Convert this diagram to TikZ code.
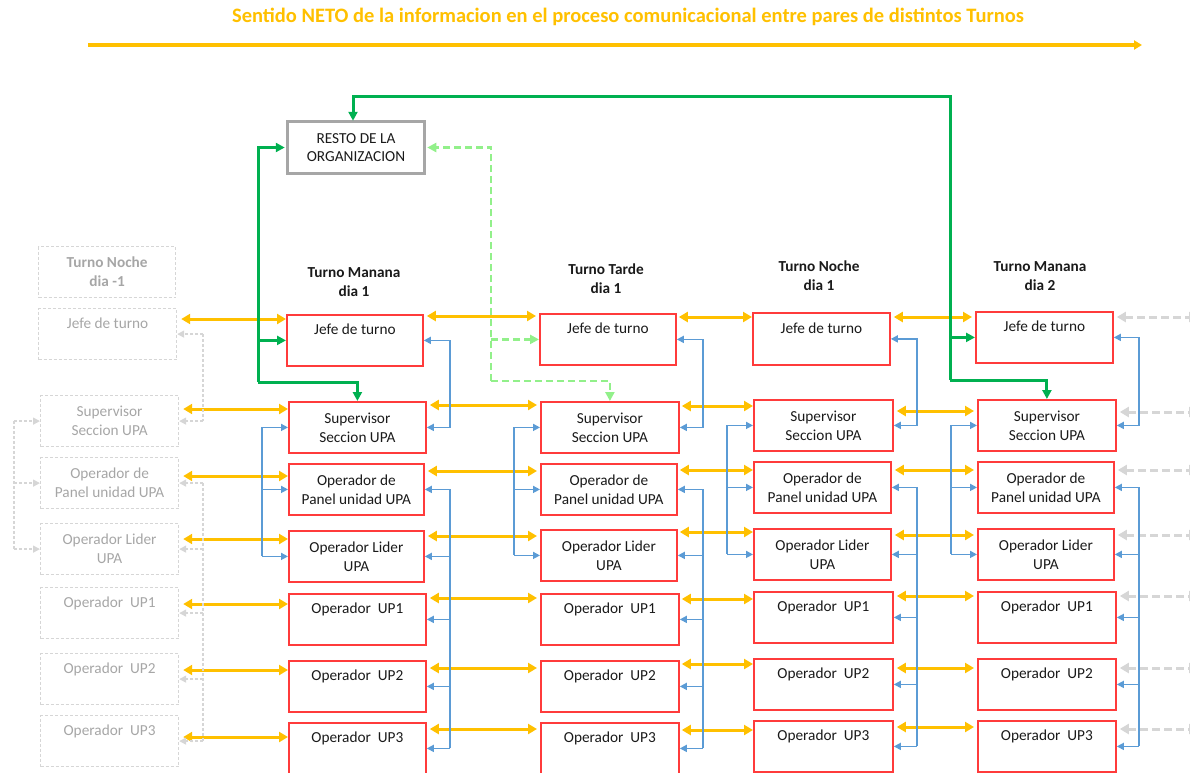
\documentclass[tikz,border=0pt]{standalone}
\usepackage{fontspec}
\setmainfont{Carlito}
\usetikzlibrary{arrows.meta,calc}
\definecolor{ygold}{HTML}{FFC000}
\definecolor{bred}{HTML}{FF3B3B}
\definecolor{bblue}{HTML}{5B9BD5}
\definecolor{ggreen}{HTML}{00B050}
\definecolor{lgreen}{HTML}{92F08A}
\definecolor{ghostline}{HTML}{D6D6D6}
\definecolor{ghosttext}{HTML}{A6A6A6}
\definecolor{restogray}{HTML}{A6A6A6}
\definecolor{txt}{HTML}{1A1A1A}
\newcommand{\bxf}{\fontsize{15.3}{19}\selectfont}
\newcommand{\bx}[6]{\node[#1, minimum width=#4pt, minimum height=#5pt, anchor=north west] (#2) at (#3) {#6};}
\begin{document}
\begin{tikzpicture}[x=1pt,y=-1pt,
  bx/.style={draw=bred, line width=1.8pt, align=center, font=\bxf, text=txt, inner sep=0pt},
  gbx/.style={draw=ghostline, dash pattern=on 3pt off 2pt, line width=1.2pt, align=center, font=\bxf, text=ghosttext, inner sep=0pt},
  one/.style={text height=17pt, text depth=28pt, inner ysep=3pt},
  hd/.style={font=\bfseries\bxf, align=center, text=txt},
  yarr/.style={draw=ygold, line width=3pt, {Triangle[length=9pt,width=10pt]}-{Triangle[length=9pt,width=10pt]}},
  bln/.style={draw=bblue, line width=1.6pt},
  btip/.style={bln, -{Triangle[length=7pt,width=7pt]}},
  bboth/.style={bln, {Triangle[length=7pt,width=7pt]}-{Triangle[length=7pt,width=7pt]}},
  gln/.style={draw=ghostline, line width=1.5pt, dash pattern=on 3pt off 2pt},
  gtip/.style={gln, -{Triangle[length=7pt,width=7pt]}},
  rgray/.style={draw=ghostline, line width=3pt, dash pattern=on 8pt off 4pt, {Triangle[length=9pt,width=10pt]}-{Triangle[length=9pt,width=10pt]}},
  grn/.style={draw=ggreen, line width=3pt},
  grntip/.style={grn, -{Triangle[length=9pt,width=9pt]}},
  lgrn/.style={draw=lgreen, line width=2.6pt, dash pattern=on 7pt off 4pt},
  lgrntip/.style={lgrn, -{Triangle[length=9pt,width=9pt]}}
]
\useasboundingbox (0,0) rectangle (1190,772);
\clip (0,0) rectangle (1190,772);

% title
\node[font=\bfseries\fontsize{20.5}{24}\selectfont, text=ygold] (title) at (628,17) {Sentido NETO de la informacion en el proceso comunicacional entre pares de distintos Turnos};
\coordinate (ta) at (88,45);
\coordinate (tb) at (1142,45);
\draw[draw=ygold, line width=3.5pt, -{Triangle[length=8pt,width=9pt]}] (ta) -- (tb);

% resto
\node[draw=restogray, line width=3.5pt, minimum width=137pt, minimum height=52pt, align=center, font=\fontsize{15.3}{18}\selectfont, text=txt] (resto) at (356,147.5) {RESTO DE LA\\ORGANIZACION};

% headers
\node[hd] (h1) at (354,282) {Turno Manana\\dia 1};
\node[hd] (h2) at (606,279) {Turno Tarde\\dia 1};
\node[hd] (h3) at (819,276) {Turno Noche\\dia 1};
\node[hd] (h4) at (1040,276) {Turno Manana\\dia 2};

% ghost column
\bx{gbx,font=\bfseries\bxf}{g0-head}{38,246}{137}{51}{Turno Noche\\dia -1}
\bx{gbx,one}{g0-jefe}{38,308}{138}{51}{Jefe de turno}
\bx{gbx}{g0-sup}{40,395}{138}{51}{Supervisor\\Seccion UPA}
\bx{gbx}{g0-pan}{40,457}{138}{51}{Operador de\\Panel unidad UPA}
\bx{gbx}{g0-lid}{40,523}{138}{51}{Operador Lider\\UPA}
\bx{gbx,one}{g0-up1}{40,587}{138}{51}{Operador\ \ UP1}
\bx{gbx,one}{g0-up2}{40,653}{138}{51}{Operador\ \ UP2}
\bx{gbx,one}{g0-up3}{40,715}{138}{51}{Operador\ \ UP3}

% column 1
\bx{bx,one}{c1-jefe}{286,314}{136}{51}{Jefe de turno}
\bx{bx}{c1-sup}{288,401}{137}{51}{Supervisor\\Seccion UPA}
\bx{bx}{c1-pan}{288,463}{135}{51}{Operador de\\Panel unidad UPA}
\bx{bx}{c1-lid}{288,530}{135}{51}{Operador Lider\\UPA}
\bx{bx,one}{c1-up1}{288,593}{137}{51}{Operador\ \ UP1}
\bx{bx,one}{c1-up2}{288,660}{137}{50}{Operador\ \ UP2}
\bx{bx,one}{c1-up3}{288,722}{137}{51}{Operador\ \ UP3}

% column 2
\bx{bx,one}{c2-jefe}{539,313}{136}{50}{Jefe de turno}
\bx{bx}{c2-sup}{540,401}{138}{51}{Supervisor\\Seccion UPA}
\bx{bx}{c2-pan}{540,463}{136}{51}{Operador de\\Panel unidad UPA}
\bx{bx}{c2-lid}{540,529}{136}{51}{Operador Lider\\UPA}
\bx{bx,one}{c2-up1}{540,593}{138}{51}{Operador\ \ UP1}
\bx{bx,one}{c2-up2}{540,660}{138}{50}{Operador\ \ UP2}
\bx{bx,one}{c2-up3}{540,722}{138}{51}{Operador\ \ UP3}

% column 3
\bx{bx,one}{c3-jefe}{752,312}{137}{52}{Jefe de turno}
\bx{bx}{c3-sup}{753,399}{139}{51}{Supervisor\\Seccion UPA}
\bx{bx}{c3-pan}{753,461}{137}{51}{Operador de\\Panel unidad UPA}
\bx{bx}{c3-lid}{753,528}{137}{51}{Operador Lider\\UPA}
\bx{bx,one}{c3-up1}{753,591}{139}{51}{Operador\ \ UP1}
\bx{bx,one}{c3-up2}{753,658}{139}{50}{Operador\ \ UP2}
\bx{bx,one}{c3-up3}{753,720}{139}{51}{Operador\ \ UP3}

% column 4
\bx{bx,one}{c4-jefe}{975,311}{137}{51}{Jefe de turno}
\bx{bx}{c4-sup}{977,399}{138}{51}{Supervisor\\Seccion UPA}
\bx{bx}{c4-pan}{977,461}{136}{51}{Operador de\\Panel unidad UPA}
\bx{bx}{c4-lid}{977,528}{136}{51}{Operador Lider\\UPA}
\bx{bx,one}{c4-up1}{977,591}{138}{51}{Operador\ \ UP1}
\bx{bx,one}{c4-up2}{977,658}{138}{50}{Operador\ \ UP2}
\bx{bx,one}{c4-up3}{977,720}{138}{51}{Operador\ \ UP3}

% yellow peer connectors
\coordinate (redge) at (1198,0);
\foreach \r/\ya/\yb/\yc/\yd/\ye in {jefe/319/316/317/317/317, sup/409/405/406/411/412, pan/476/471/470/470/470, lid/539/536/532/535/535, up1/604/598/599/596/596, up2/670/668/664/668/668, up3/737/729/730/727/729}{
  \draw[yarr] ([xshift=4pt]g0-\r.east |- 0,\ya) -- (c1-\r.west |- 0,\ya);
  \draw[yarr] ([xshift=3pt]c1-\r.east |- 0,\yb) -- ([xshift=-3pt]c2-\r.west |- 0,\yb);
  \draw[yarr] ([xshift=2pt]c2-\r.east |- 0,\yc) -- (c3-\r.west |- 0,\yc);
  \draw[yarr] ([xshift=3pt]c3-\r.east |- 0,\yd) -- ([xshift=-3pt]c4-\r.west |- 0,\yd);
  \draw[rgray] ([xshift=3pt]c4-\r.east |- 0,\ye) -- (redge |- 0,\ye);
}

% blue internal connectors
\foreach \k/\L/\R in {1/262/450, 2/514/703, 3/727/917, 4/951/1139}{
  \coordinate (lb\k) at (\L,0);
  \coordinate (rb\k) at (\R,0);
  \draw[bboth] (c\k-jefe.east) -- (c\k-jefe.east -| rb\k) -- (c\k-sup.east -| rb\k) -- (c\k-sup.east);
  \draw[bln] (c\k-pan.east -| rb\k) -- (c\k-up3.east -| rb\k);
  \foreach \r in {pan,lid,up1,up2,up3}{
    \draw[btip] (c\k-\r.east -| rb\k) -- (c\k-\r.east);
  }
  \draw[bln] (c\k-sup.west -| lb\k) -- (c\k-lid.west -| lb\k);
  \foreach \r in {sup,pan,lid}{
    \draw[btip] (c\k-\r.west -| lb\k) -- (c\k-\r.west);
  }
}

% ghost internal connectors
\coordinate (gR) at (203,0);
\coordinate (gL) at (14,0);
\draw[gln] (g0-jefe.east -| gR) -- (g0-sup.east -| gR);
\draw[gtip] (g0-jefe.east -| gR) -- (g0-jefe.east);
\draw[gtip] (g0-sup.east -| gR) -- (g0-sup.east);
\draw[gln] (g0-pan.east -| gR) -- (g0-up3.east -| gR);
\foreach \r in {pan,lid,up1,up2,up3}{
  \draw[gtip] (g0-\r.east -| gR) -- (g0-\r.east);
}
\draw[gln] (g0-sup.west -| gL) -- (g0-lid.west -| gL);
\foreach \r in {sup,pan,lid}{
  \draw[gtip] (g0-\r.west -| gL) -- (g0-\r.west);
}

% dark green: right loop
\coordinate (gA) at (950,96);
\coordinate (gB) at (950,380);
\draw[grntip] (gB) -- (gA) -- ([xshift=-3pt]resto.north |- gA) -- ([xshift=-3pt,yshift=-1pt]resto.north);
\draw[grntip] (gB) -| (c4-sup.north);
\draw[grntip] (gA |- c4-jefe.west) -- (c4-jefe.west);

% dark green: left loop
\coordinate (gC) at (258,382);
\draw[grntip] (gC) |- ([xshift=-1pt]resto.west);
\draw[grntip] (gC) -| (c1-sup.north);
\draw[grntip] (gC |- c1-jefe.west) -- (c1-jefe.west);

% light green dashed
\coordinate (lgA) at (491,381);
\draw[lgrntip] (lgA) |- ([xshift=1pt]resto.east);
\draw[lgrntip] (lgA) -| (c2-sup.north);
\draw[lgrntip] (lgA |- c2-jefe.west) -- (c2-jefe.west);
\end{tikzpicture}
\end{document}
